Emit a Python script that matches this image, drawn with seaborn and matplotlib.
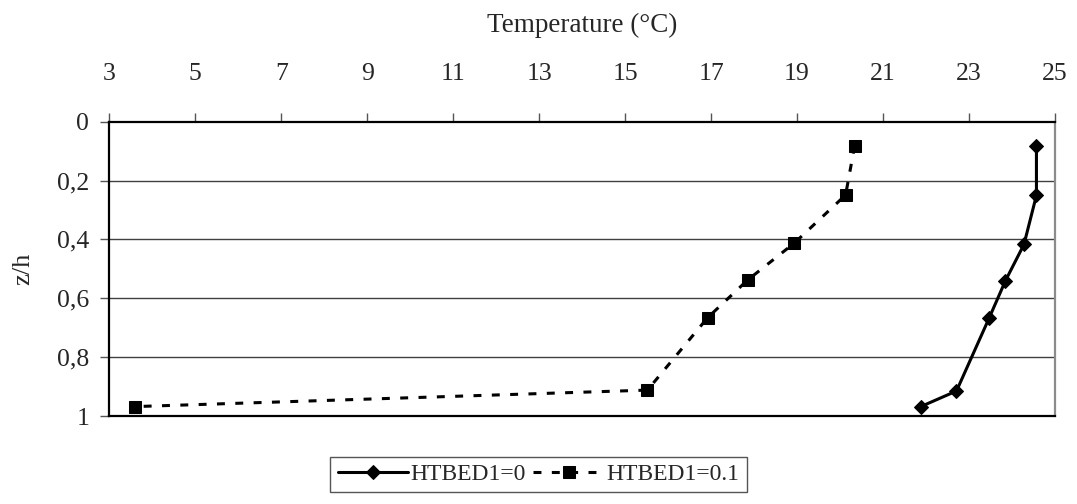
import matplotlib
matplotlib.use("Agg")
import matplotlib.pyplot as plt
import seaborn as sns
import pandas as pd
from matplotlib.ticker import FuncFormatter

sns.set_theme(style="white")
plt.rcParams["font.family"] = ["Liberation Serif", "DejaVu Serif"]

# Vertical temperature profiles (z/h measured downward from the top)
z_h0 = [0.083, 0.25, 0.417, 0.54, 0.667, 0.915, 0.968]
temp_h0 = [24.57, 24.57, 24.28, 23.85, 23.47, 22.71, 21.88]

z_h01 = [0.082, 0.249, 0.412, 0.538, 0.666, 0.912, 0.968]
temp_h01 = [20.34, 20.13, 18.94, 17.85, 16.92, 15.52, 3.60]

series_names = ["HTBED1=0", "HTBED1=0.1"]
x_ticks = [3, 5, 7, 9, 11, 13, 15, 17, 19, 21, 23, 25]
y_ticks = [0, 0.2, 0.4, 0.6, 0.8, 1]

df = pd.concat([
    pd.DataFrame({"T": temp_h0, "z": z_h0, "case": series_names[0]}),
    pd.DataFrame({"T": temp_h01, "z": z_h01, "case": series_names[1]}),
])

fig = plt.figure(figsize=(10.77, 5.04), dpi=100)
ax = fig.add_axes([0.1015, 0.1746, 0.878, 0.5839])

styles = {
    series_names[0]: dict(linestyle="-", marker="D", markersize=7.5),
    series_names[1]: dict(linestyle=(0, (2.6, 3.4)), marker="s", markersize=8),
}
for name in series_names:
    sub = df[df["case"] == name]
    sns.lineplot(data=sub, x="T", y="z", sort=False, estimator=None, ax=ax,
                 color="black", linewidth=2.2, markeredgecolor="black",
                 label=name, **styles[name])

ax.set_xlim(3, 25)
ax.set_ylim(1, 0)
ax.set_xticks(x_ticks)
ax.set_yticks(y_ticks)
ax.yaxis.set_major_formatter(FuncFormatter(
    lambda v, p: ("%g" % round(v, 2)).replace(".", ",")))

ax.xaxis.tick_top()
ax.xaxis.set_label_position("top")
ax.set_xlabel("Temperature (°C)", fontsize=19.5, labelpad=22)
ax.set_ylabel("z/h", fontsize=19, labelpad=16)
ax.tick_params(axis="both", labelsize=18.5, direction="out", length=6.5,
               width=1, color="#555555")
ax.tick_params(axis="x", pad=20, top=True, bottom=False)
ax.tick_params(axis="y", pad=8, left=True)

for y in y_ticks[1:-1]:
    ax.axhline(y, color="#404040", linewidth=1.0, zorder=0)

for side in ["top", "bottom", "left"]:
    ax.spines[side].set_color("black")
    ax.spines[side].set_linewidth(1.6)
ax.spines["right"].set_color("#8c8c8c")
ax.spines["right"].set_linewidth(1.6)

ax.legend_.remove()
h, l = ax.get_legend_handles_labels()
leg = fig.legend(h, l, loc="lower center", bbox_to_anchor=(0.5, 0.0),
                 ncol=2, frameon=True, fancybox=False, fontsize=17,
                 handlelength=3.0, handletextpad=0.1, columnspacing=0.3,
                 borderpad=0.3, edgecolor="#555555", framealpha=1)
leg.get_frame().set_linewidth(1.0)

fig.savefig("out.png", dpi=100)
